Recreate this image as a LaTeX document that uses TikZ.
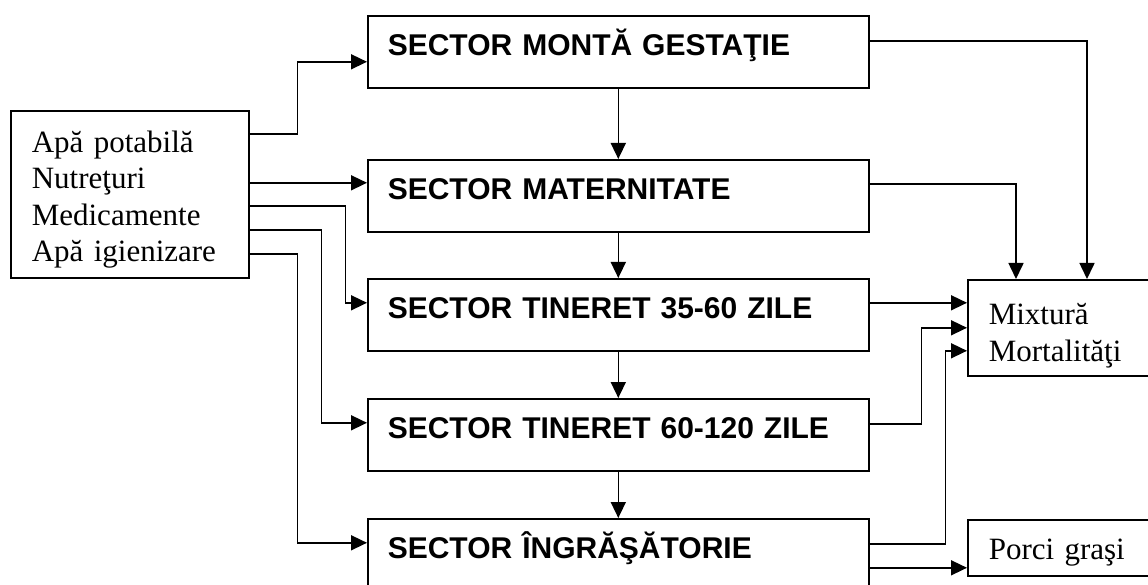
\documentclass[tikz,border=0pt]{standalone}
\usepackage{fontspec}
\setmainfont{Liberation Serif}
\newfontfamily\arialfont{Liberation Sans}
\usetikzlibrary{arrows.meta}
\tikzset{
	sector/.style={draw, line width=1.6pt, anchor=north west, text width=461pt, align=left,
		inner xsep=20pt, inner ysep=10pt, text height=30pt, text depth=22pt,
		font=\arialfont\bfseries\fontsize{30}{36}\selectfont},
	sidebox/.style={draw, line width=1.6pt, anchor=north west, align=left, inner xsep=21pt,
		font=\fontsize{31}{36.5}\selectfont},
	flow/.style={line width=1.6pt, -{Triangle[length=16pt,width=15pt]}}
}

\begin{document}
\begin{tikzpicture}[x=1pt,y=-1pt]
			%%%%% START %%%%%
			\clip (0,0) rectangle (1148,585);
			
			% intrari
			\node[sidebox, text width=196pt, minimum height=167pt] (inputs) at (10,110)
				{\rule{0pt}{32pt}Apă potabilă\\Nutreţuri\\Medicamente\\Apă igienizare};
			
			% sectoare
			\node[sector] (monta) at (367,15) {SECTOR MONTĂ GESTAŢIE};
			\node[sector] (mater) at (367,159) {SECTOR MATERNITATE};
			\node[sector] (tin1) at (367,278) {SECTOR TINERET 35-60 ZILE};
			\node[sector] (tin2) at (367,398) {SECTOR TINERET 60-120 ZILE};
			\node[sector] (ingr) at (367,518) {SECTOR ÎNGRĂŞĂTORIE};
			
			% iesiri
			\node[sidebox, text width=179pt, minimum height=96pt] (mix) at (967,279)
				{\rule{0pt}{37pt}Mixtură\\Mortalităţi};
			\node[sidebox, text width=179pt, minimum height=56pt] (porci) at (967,519)
				{\rule{0pt}{31pt}Porci graşi};
			
			% fluxul intre sectoare
			\draw[flow] (monta.south) -- (mater.north);
			\draw[flow] (mater.south) -- (tin1.north);
			\draw[flow] (tin1.south) -- (tin2.north);
			\draw[flow] (tin2.south) -- (ingr.north);
			
			% alimentare
			\draw[flow] ([yshift=60.5pt]inputs.east) -- ++(48,0) |- ([yshift=-10pt]monta.west);
			\draw[flow] ([yshift=11.5pt]inputs.east) -- ([yshift=11.5pt]inputs.east -| mater.west);
			\draw[flow] ([yshift=-11.5pt]inputs.east) -- ++(96,0) |- ([yshift=12pt]tin1.west);
			\draw[flow] ([yshift=-35.5pt]inputs.east) -- ++(72,0) |- ([yshift=12pt]tin2.west);
			\draw[flow] ([yshift=-59.5pt]inputs.east) -- ++(48,0) |- ([yshift=12pt]ingr.west);
			
			% evacuare
			\draw[flow] ([yshift=11pt]monta.east) -| ([xshift=120pt]mix.north west);
			\draw[flow] ([yshift=12pt]mater.east) -| ([xshift=49pt]mix.north west);
			\draw[flow] ([yshift=12pt]tin1.east) -- ([yshift=12pt]tin1.east -| mix.west);
			\draw[flow] ([yshift=11pt]tin2.east) -- ++(52,0) |- (mix.west);
			\draw[flow] ([yshift=11pt]ingr.east) -- ++(76,0) |- ([yshift=-23pt]mix.west);
			\draw[flow] ([yshift=-13pt]ingr.east) -- ([yshift=-13pt]ingr.east -| porci.west);
			
			%%%%% END %%%%%
\end{tikzpicture}
\end{document}
